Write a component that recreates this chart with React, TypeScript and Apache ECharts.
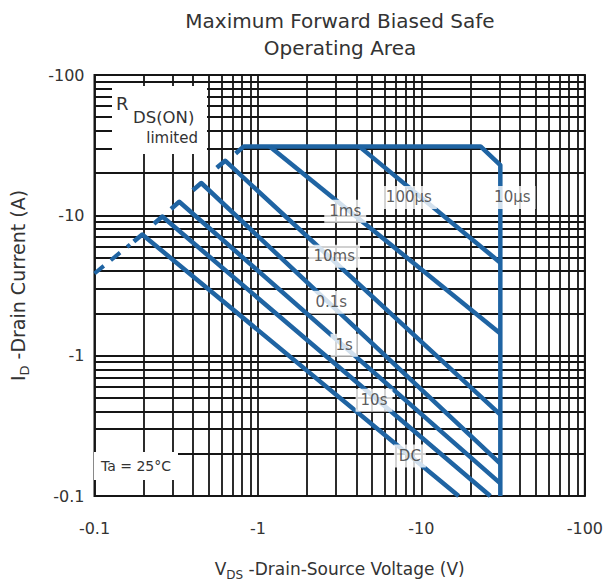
import React, { useEffect, useRef } from "react";
import * as echarts from "echarts";

// ---- data ----
const xDecades = [0.1, 1, 10];
const yDecades = [0.1, 1, 10];
const minorMultipliers = [2, 3, 4, 5, 6, 7, 8, 9];

// RDS(on) limit (dashed)
const rdsLimit: [number, number][] = [
  [0.1, 3.85],
  [0.165, 6.2],
];

// pulse-width curves [V, A]
const curve10us: [number, number][] = [
  [0.73, 27.6],
  [0.82, 31],
  [23, 31],
  [30.4, 22.8],
  [30.4, 0.1],
];
const curve100us: [number, number][] = [
  [4.16, 31],
  [30.4, 4.6],
];
const curve1ms: [number, number][] = [
  [1.18, 31],
  [30.4, 1.44],
];
const curve10ms: [number, number][] = [
  [0.56, 21.8],
  [0.63, 24.5],
  [30.4, 0.38],
];
const curve100ms: [number, number][] = [
  [0.4, 15.1],
  [0.45, 17],
  [30.4, 0.17],
];
const curve1s: [number, number][] = [
  [0.294, 11.1],
  [0.33, 12.5],
  [30.4, 0.123],
];
const curve10s: [number, number][] = [
  [0.231, 8.7],
  [0.26, 9.8],
  [26.4, 0.1],
];
const curveDC: [number, number][] = [
  [0.174, 6.5],
  [0.196, 7.3],
  [16.9, 0.1],
];

const curveNames = ["10µs", "100µs", "1ms", "10ms", "0.1s", "1s", "10s", "DC"];
const curveLabelAnchors: [number, number][] = [
  [36.0, 13.4],
  [8.38, 13.4],
  [3.42, 10.7],
  [2.93, 5.12],
  [2.81, 2.4],
  [3.37, 1.186],
  [5.13, 0.482],
  [8.5, 0.193],
];

const FONT = "DejaVu Sans, Arial, sans-serif";
const BLUE = "#1f64a3";
const GRID = "#151515";
const TEXT = "#333";

function fmt(v: number) {
  return "-" + String(Number(Number(v).toPrecision(6)));
}

export default function App() {
  const ref = useRef<HTMLDivElement>(null);
  useEffect(() => {
    if (!ref.current) return;
    const chart = echarts.init(ref.current, undefined, { renderer: "svg" });
    const xMinor = xDecades.flatMap((d) => minorMultipliers.map((m) => Number((m * d).toPrecision(3))));
    const yMinor = yDecades.flatMap((d) => minorMultipliers.map((m) => Number((m * d).toPrecision(3))));
    const curves = [curve10us, curve100us, curve1ms, curve10ms, curve100ms, curve1s, curve10s, curveDC];

    const nameRich = {
      a: { fontSize: 17, color: TEXT, fontFamily: FONT, lineHeight: 24, verticalAlign: "middle" },
      b: { fontSize: 12, color: TEXT, fontFamily: FONT, lineHeight: 24, verticalAlign: "bottom" },
    };

    const option: any = {
      animation: false,
      backgroundColor: "#fff",
      textStyle: { fontFamily: FONT },
      grid: {
        left: 92,
        right: 21,
        top: 75,
        bottom: 75,
        show: true,
        borderColor: GRID,
        borderWidth: 2,
        backgroundColor: "transparent",
      },
      xAxis: {
        type: "log",
        logBase: 10,
        min: 0.1,
        max: 100,
        axisLine: { show: false },
        axisTick: { show: false },
        splitLine: { show: true, lineStyle: { color: GRID, width: 1.8 } },
        axisLabel: {
          formatter: fmt,
          fontSize: 16,
          color: TEXT,
          margin: 24,
          fontFamily: FONT,
          showMinLabel: true,
          showMaxLabel: true,
        },
        name: "{a|V}{b|DS}{a| -Drain-Source Voltage (V)}",
        nameLocation: "middle",
        nameGap: 61,
        nameTextStyle: { fontFamily: FONT, color: TEXT, rich: nameRich },
      },
      yAxis: {
        type: "log",
        logBase: 10,
        min: 0.1,
        max: 100,
        axisLine: { show: false },
        axisTick: { show: false },
        splitLine: { show: true, lineStyle: { color: GRID, width: 1.8 } },
        axisLabel: {
          formatter: fmt,
          fontSize: 16,
          color: TEXT,
          margin: 10,
          fontFamily: FONT,
          showMinLabel: true,
          showMaxLabel: true,
        },
        name: "{a|I}{b|D}{a| -Drain Current (A)}",
        nameLocation: "middle",
        nameGap: 64,
        nameTextStyle: {
          fontFamily: FONT,
          color: TEXT,
          rich: {
            a: { fontSize: 19, color: TEXT, fontFamily: FONT, lineHeight: 26, verticalAlign: "middle" },
            b: { fontSize: 13, color: TEXT, fontFamily: FONT, lineHeight: 26, verticalAlign: "bottom" },
          },
        },
      },
      graphic: [
        {
          type: "text",
          x: 340,
          y: 21,
          z: 100,
          style: { text: "Maximum Forward Biased Safe", align: "center", verticalAlign: "middle", fontSize: 20, fontFamily: FONT, fill: TEXT },
        },
        {
          type: "text",
          x: 340,
          y: 48,
          z: 100,
          style: { text: "Operating Area", align: "center", verticalAlign: "middle", fontSize: 20, fontFamily: FONT, fill: TEXT },
        },
        { type: "rect", z: 50, shape: { x: 112, y: 86, width: 95, height: 68 }, style: { fill: "#fff" } },
        { type: "text", z: 51, x: 116, y: 103, style: { text: "R", verticalAlign: "middle", fontSize: 18, fontFamily: FONT, fill: TEXT } },
        { type: "text", z: 51, x: 133, y: 117, style: { text: "DS(ON)", verticalAlign: "middle", fontSize: 16.5, fontFamily: FONT, fill: TEXT } },
        { type: "text", z: 51, x: 198, y: 138, style: { text: "limited", align: "right", verticalAlign: "middle", fontSize: 15, fontFamily: FONT, fill: TEXT } },
        { type: "rect", z: 50, shape: { x: 94, y: 452, width: 84, height: 28 }, style: { fill: "#fff" } },
        { type: "text", z: 51, x: 136, y: 466, style: { text: "Ta = 25°C", align: "center", verticalAlign: "middle", fontSize: 14, fontFamily: FONT, fill: TEXT } },
      ],
      series: [
        {
          type: "line",
          z: 1,
          data: [],
          silent: true,
          markLine: {
            silent: true,
            symbol: ["none", "none"],
            label: { show: false },
            lineStyle: { color: GRID, width: 1.8, type: "solid" },
            emphasis: { disabled: true },
            data: [...xMinor.map((v) => ({ xAxis: v })), ...yMinor.map((v) => ({ yAxis: v }))],
          },
        },
        {
          type: "line",
          z: 40,
          data: rdsLimit,
          showSymbol: false,
          symbol: "none",
          lineStyle: { color: BLUE, width: 4, type: [12, 9] },
        },
        ...curves.map((c, i) => ({
          type: "line",
          name: curveNames[i],
          z: 40,
          data: c,
          showSymbol: false,
          symbol: "none",
          lineStyle: { color: BLUE, width: 4.5, join: "round", cap: "butt" },
        })),
        {
          type: "scatter",
          z: 60,
          symbolSize: 0,
          data: curveLabelAnchors.map((p, i) => ({ value: p, name: curveNames[i] })),
          label: {
            show: true,
            position: "inside",
            formatter: "{b}",
            fontSize: 15,
            fontFamily: FONT,
            color: TEXT,
            backgroundColor: "#fff",
            padding: [4, 5],
          },
        },
      ],
    };
    chart.setOption(option);
    return () => chart.dispose();
  }, []);
  return (
    <div
      ref={ref}
      style={{ position: "absolute", left: 0, top: 0, width: 606, height: 586, background: "#fff" }}
    />
  );
}
